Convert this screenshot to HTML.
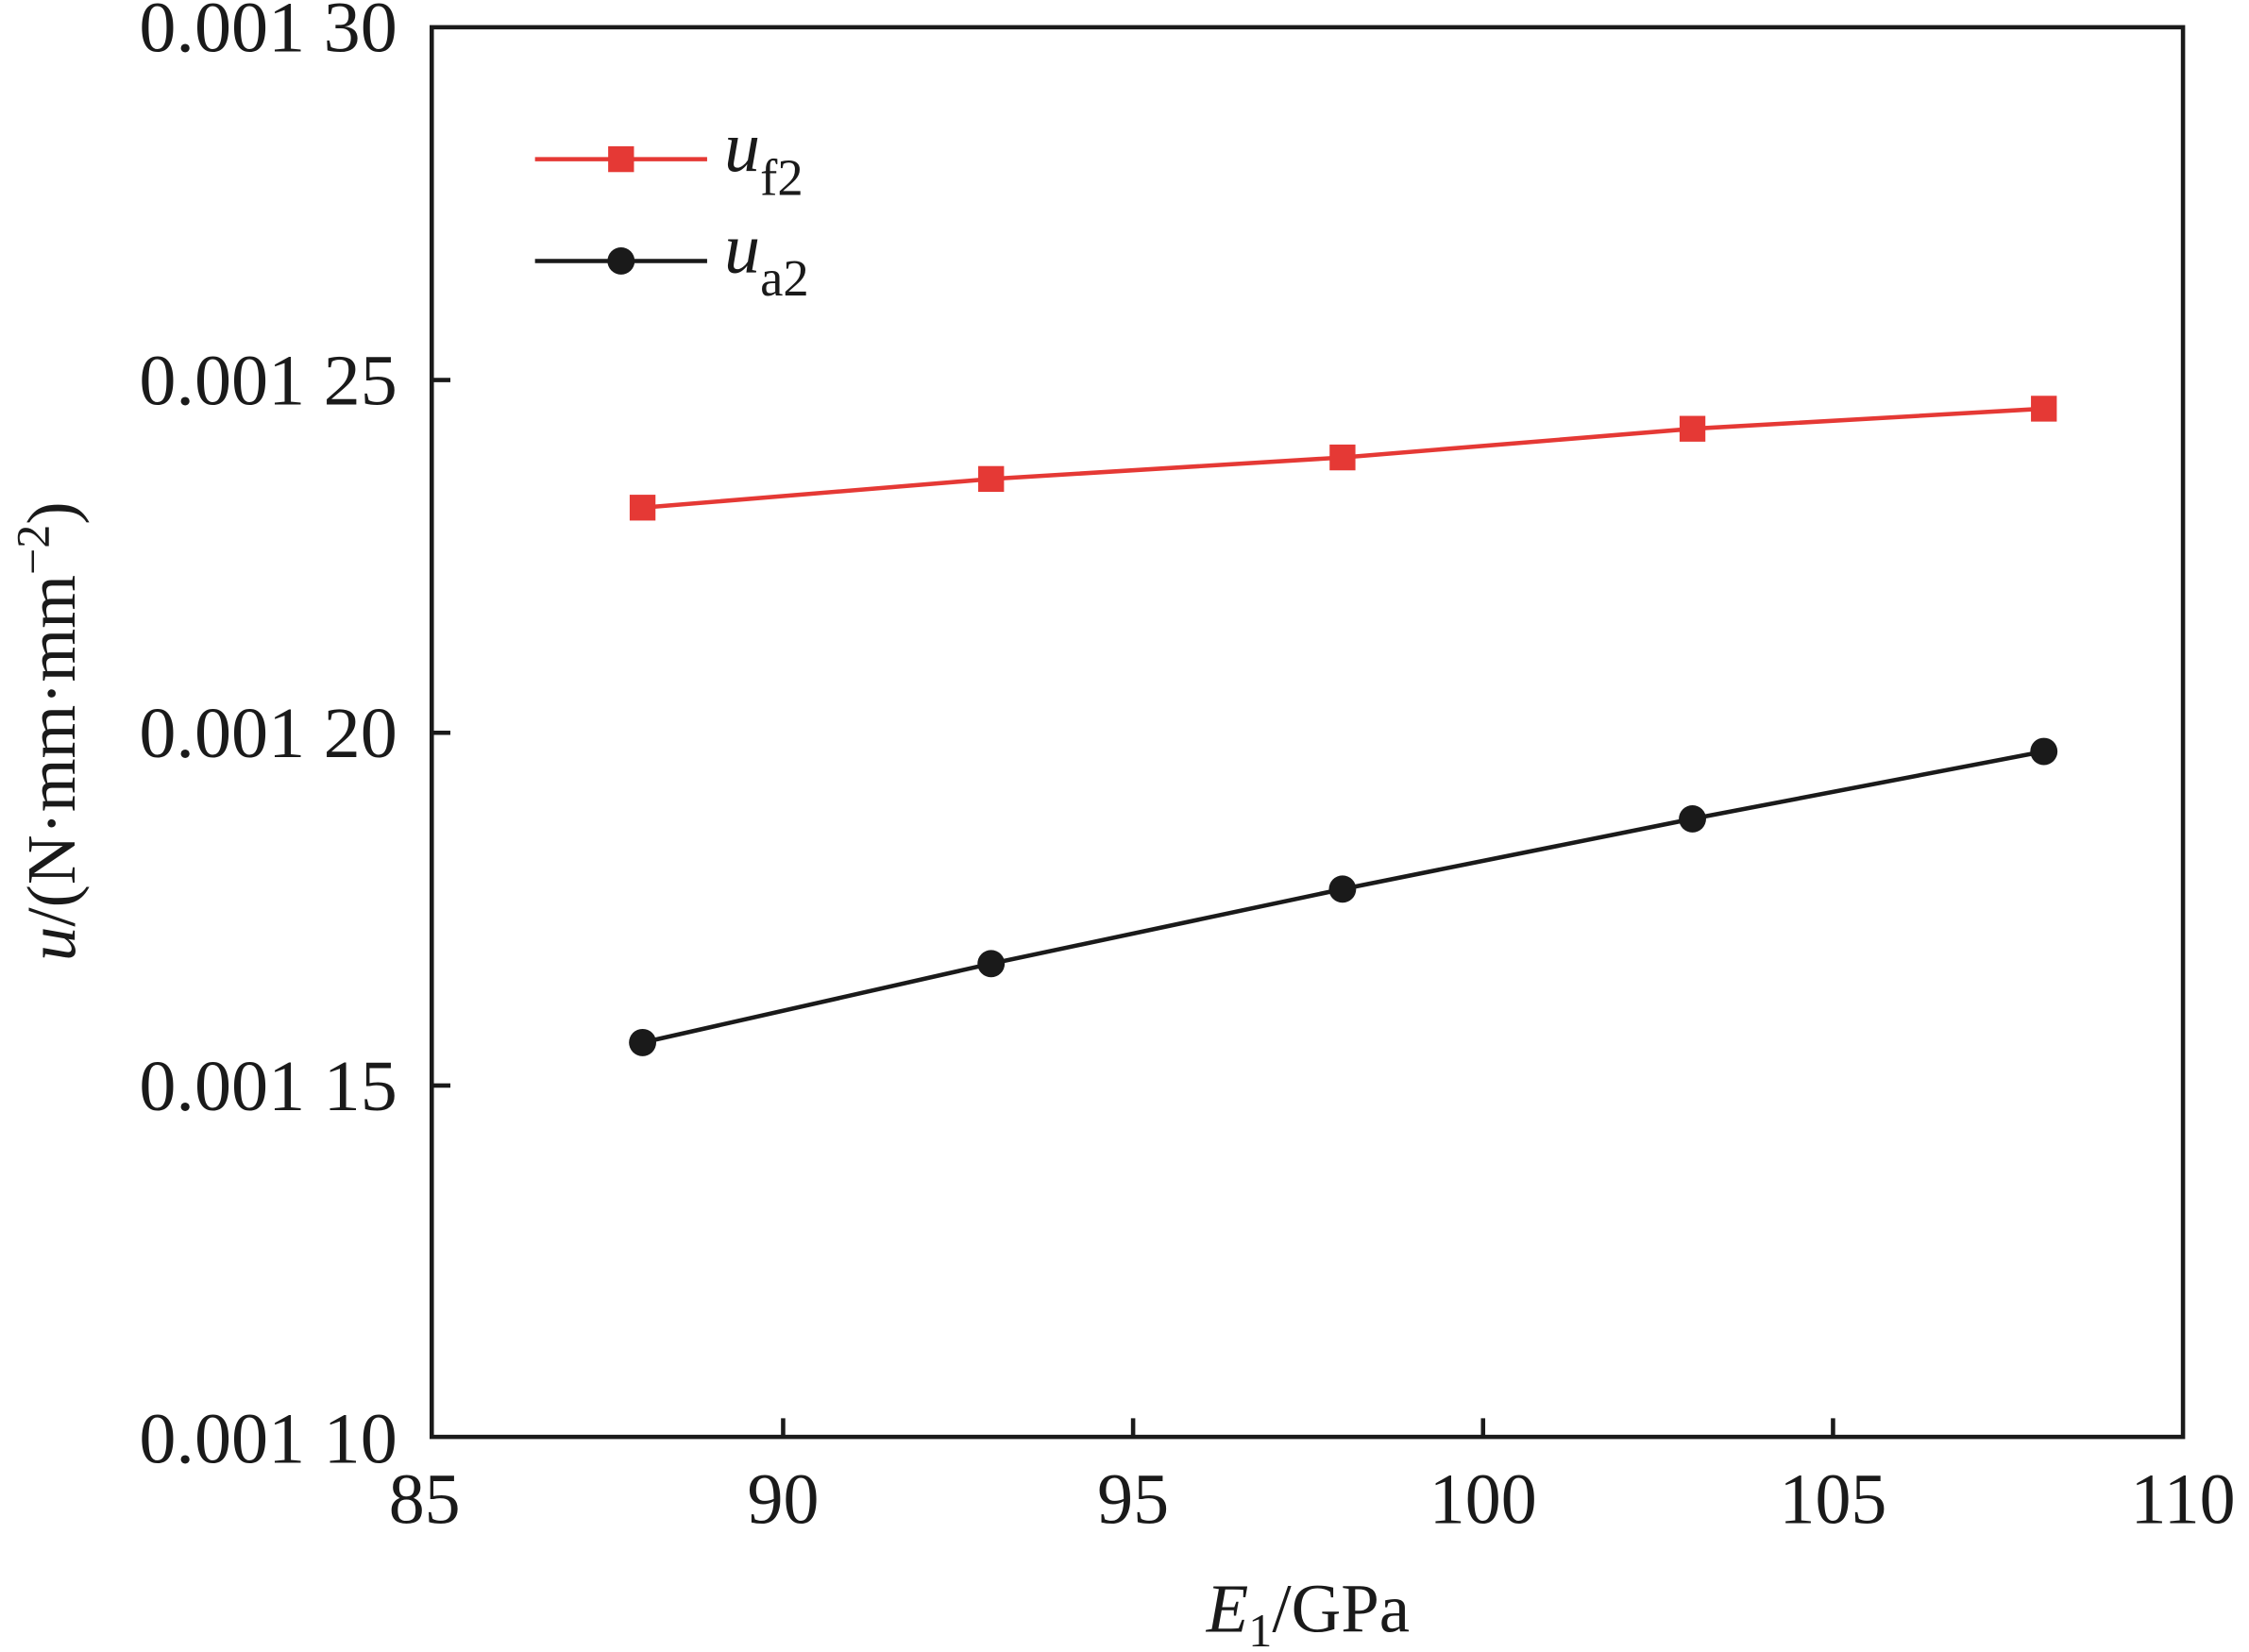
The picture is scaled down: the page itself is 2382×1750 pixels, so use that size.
<!DOCTYPE html>
<html><head><meta charset="utf-8"><style>html,body{margin:0;padding:0;background:#fff}svg{display:block}</style></head>
<body>
<svg width="2382" height="1750" viewBox="0 0 1568 1152" xmlns="http://www.w3.org/2000/svg" font-family="'Liberation Serif', serif" fill="#1a1a1a">
<rect x="0" y="0" width="1568" height="1152" fill="#fff"/>
<g stroke="#1a1a1a" stroke-width="3" fill="none">
<rect x="301" y="19" width="1221" height="983"/>
<path d="M546 1002v-13M790 1002v-13M1034 1002v-13M1278 1002v-13M301 265h13M301 511h13M301 757h13"/>
</g>
<g font-size="50">
<text x="97" y="36" textLength="180" lengthAdjust="spacingAndGlyphs">0.001 30</text>
<text x="97" y="282" textLength="180" lengthAdjust="spacingAndGlyphs">0.001 25</text>
<text x="97" y="528" textLength="180" lengthAdjust="spacingAndGlyphs">0.001 20</text>
<text x="97" y="774" textLength="180" lengthAdjust="spacingAndGlyphs">0.001 15</text>
<text x="97" y="1020" textLength="180" lengthAdjust="spacingAndGlyphs">0.001 10</text>
</g>
<g font-size="50" text-anchor="middle">
<text x="296" y="1062">85</text>
<text x="546" y="1062">90</text>
<text x="790" y="1062">95</text>
<text x="1034" y="1062">100</text>
<text x="1278" y="1062">105</text>
<text x="1522" y="1062">110</text>
</g>
<text x="912" y="1138" font-size="48" text-anchor="middle"><tspan font-style="italic">E</tspan><tspan font-size="33" dy="10">1</tspan><tspan dy="-10">/GPa</tspan></text>
<text transform="translate(52,510) rotate(-90)" font-size="48" text-anchor="middle"><tspan font-style="italic">u</tspan>/(N·mm·mm<tspan font-size="33" dy="-18">−2</tspan><tspan dy="18">)</tspan></text>
<polyline points="448,354 691,334 936,319 1180,299 1425,285" fill="none" stroke="#e53935" stroke-width="3"/>
<g fill="#e53935">
<rect x="439" y="345" width="18" height="18"/><rect x="682" y="325" width="18" height="18"/><rect x="927" y="310" width="18" height="18"/><rect x="1171" y="290" width="18" height="18"/><rect x="1416" y="276" width="18" height="18"/>
</g>
<polyline points="448,727 691,672 936,620 1180,571 1425,524" fill="none" stroke="#1a1a1a" stroke-width="3"/>
<g fill="#1a1a1a">
<circle cx="448" cy="727" r="9.5"/><circle cx="691" cy="672" r="9.5"/><circle cx="936" cy="620" r="9.5"/><circle cx="1180" cy="571" r="9.5"/><circle cx="1425" cy="524" r="9.5"/>
</g>
<line x1="373" y1="111" x2="493" y2="111" stroke="#e53935" stroke-width="3"/>
<rect x="424" y="102" width="18" height="18" fill="#e53935"/>
<line x1="373" y1="182" x2="493" y2="182" stroke="#1a1a1a" stroke-width="3"/>
<circle cx="433" cy="182" r="9.5"/>
<text x="505" y="119" font-size="50"><tspan font-style="italic">u</tspan><tspan font-size="36" dy="17">f2</tspan></text>
<text x="505" y="190" font-size="50"><tspan font-style="italic">u</tspan><tspan font-size="36" dy="16">a2</tspan></text>
</svg>
</body></html>
